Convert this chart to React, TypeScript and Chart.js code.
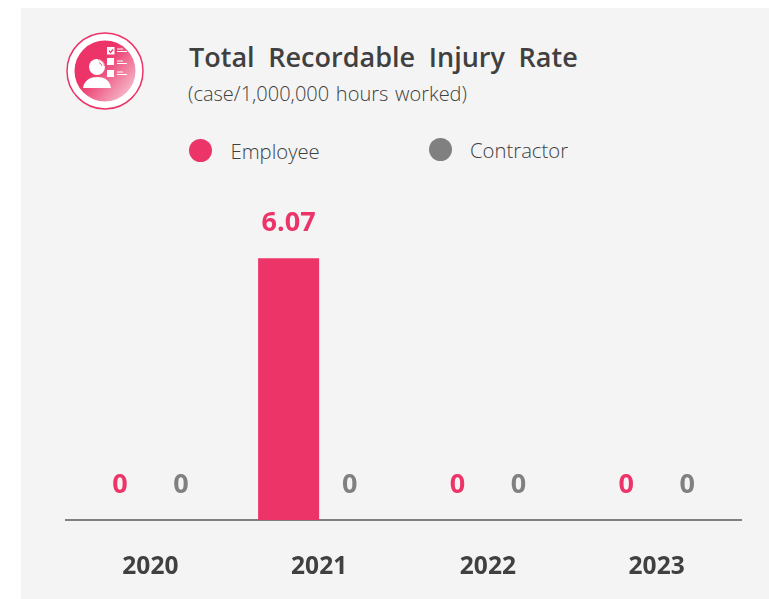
import React, { useEffect, useRef } from "react";
import { Chart, registerables } from "chart.js";

Chart.register(...registerables);

const years = ["2020", "2021", "2022", "2023"];
const employee = [0, 6.07, 0, 0];
const contractor = [0, 0, 0, 0];
const employeeLabels = ["0", "6.07", "0", "0"];
const contractorLabels = ["0", "0", "0", "0"];
const PINK = "#EC3468";
const GREY = "#808080";
const DARK = "#404040";
const FONT = "'Open Sans', 'Noto Sans', sans-serif";

const legendItems = [
  { label: "Employee", color: PINK, dot: 200, text: 230.5, y: 150.5 },
  { label: "Contractor", color: GREY, dot: 440, text: 470, y: 149.5 },
];

const valueLabels = {
  id: "valueLabels",
  afterDatasetsDraw(chart: any) {
    const { ctx } = chart;
    const texts = [employeeLabels, contractorLabels];
    chart.data.datasets.forEach((ds: any, i: number) => {
      chart.getDatasetMeta(i).data.forEach((bar: any, j: number) => {
        ctx.save();
        ctx.fillStyle = ds.backgroundColor;
        ctx.font = `700 27px ${FONT}`;
        ctx.textAlign = "center";
        ctx.textBaseline = "middle";
        ctx.fillText(texts[i][j], bar.x, bar.y - 34.5);
        ctx.restore();
      });
    });
  },
};

function Icon() {
  return (
    <svg width="80" height="80" viewBox="0 0 80 80" style={{ position: "absolute", left: 65, top: 31 }}>
      <defs>
        <linearGradient id="g" x1="0.2" y1="0.35" x2="0.9" y2="0.95">
          <stop offset="0.2" stopColor="#EC3468" />
          <stop offset="1" stopColor="#F6C4D2" />
        </linearGradient>
      </defs>
      <circle cx="40" cy="40" r="38" fill="#fff" stroke={PINK} strokeWidth="1.5" />
      <circle cx="40" cy="40" r="30.5" fill="url(#g)" />
      <circle cx="32" cy="36" r="8" fill="#fff" />
      <path d="M33 28.5 A7.5 7.5 0 0 1 39.5 35 M34 31.5 A5 5 0 0 1 37 35" stroke="#EE6C90" strokeWidth="1" fill="none" />
      <path d="M18 57 C19 49 26 46 32 46 C39 46 45 49 46 57 Z" fill="#fff" />
      <rect x="42" y="16" width="7.5" height="7.5" fill="#fff" />
      <rect x="42" y="27" width="7" height="7" fill="#fff" />
      <rect x="42" y="39" width="7" height="7" fill="#fff" />
      <path d="M44 19.5 l1.5 2 l2.5 -3" stroke={PINK} strokeWidth="1.2" fill="none" />
      <path d="M52 18 h6 M52 20.5 h10 M52 30 h6 M52 32.5 h10 M52 41 h6 M52 43.5 h10" stroke="#fff" strokeWidth="1" />
    </svg>
  );
}

export default function App() {
  const ref = useRef<HTMLCanvasElement>(null);
  useEffect(() => {
    const chart = new Chart(ref.current!, {
      type: "bar",
      data: {
        labels: years,
        datasets: [
          { label: "Employee", data: employee, backgroundColor: PINK, categoryPercentage: 0.723, barPercentage: 1 },
          { label: "Contractor", data: contractor, backgroundColor: GREY, categoryPercentage: 0.723, barPercentage: 1 },
        ],
      },
      options: {
        animation: false,
        responsive: false,
        layout: { padding: { left: 66, right: 28, top: 175, bottom: 0 } },
        plugins: { legend: { display: false }, tooltip: { enabled: false } },
        scales: {
          x: {
            grid: { display: false, drawTicks: false },
            border: { color: GREY, width: 2 },
            ticks: { color: DARK, font: { family: FONT, size: 24.5, weight: "bold" }, padding: 32, maxRotation: 0 },
            afterFit: (s: any) => { s.height = 79; },
          },
          y: { display: false, min: 0, max: 8 },
        },
      } as any,
      plugins: [valueLabels],
    });
    return () => chart.destroy();
  }, []);

  return (
    <div style={{ position: "fixed", left: 0, top: 0, width: 769, height: 599, background: "#fff", overflow: "hidden", fontFamily: FONT }}>
      <div style={{ position: "absolute", left: 21, top: 8, width: 748, height: 591, background: "#F4F4F4" }} />
      <Icon />
      <div style={{ position: "absolute", left: 189, top: 38, fontSize: 27, lineHeight: "38px", fontWeight: 600, color: DARK, wordSpacing: 6.7, whiteSpace: "nowrap" }}>
        Total Recordable Injury Rate
      </div>
      <div style={{ position: "absolute", left: 188, top: 80, fontSize: 20, lineHeight: "28px", fontWeight: 300, color: DARK, wordSpacing: 1.5, whiteSpace: "nowrap" }}>
        (case/1,000,000 hours worked)
      </div>
      {legendItems.map((it) => (
        <React.Fragment key={it.label}>
          <div style={{ position: "absolute", left: it.dot - 11.5, top: it.y - 11.5, width: 23, height: 23, borderRadius: "50%", background: it.color }} />
          <div style={{ position: "absolute", left: it.text, top: it.y - 15, fontSize: 20.3, lineHeight: "30px", fontWeight: 300, color: DARK, whiteSpace: "nowrap" }}>
            {it.label}
          </div>
        </React.Fragment>
      ))}
      <canvas ref={ref} width={769} height={599} style={{ position: "absolute", left: 0, top: 0 }} />
    </div>
  );
}
